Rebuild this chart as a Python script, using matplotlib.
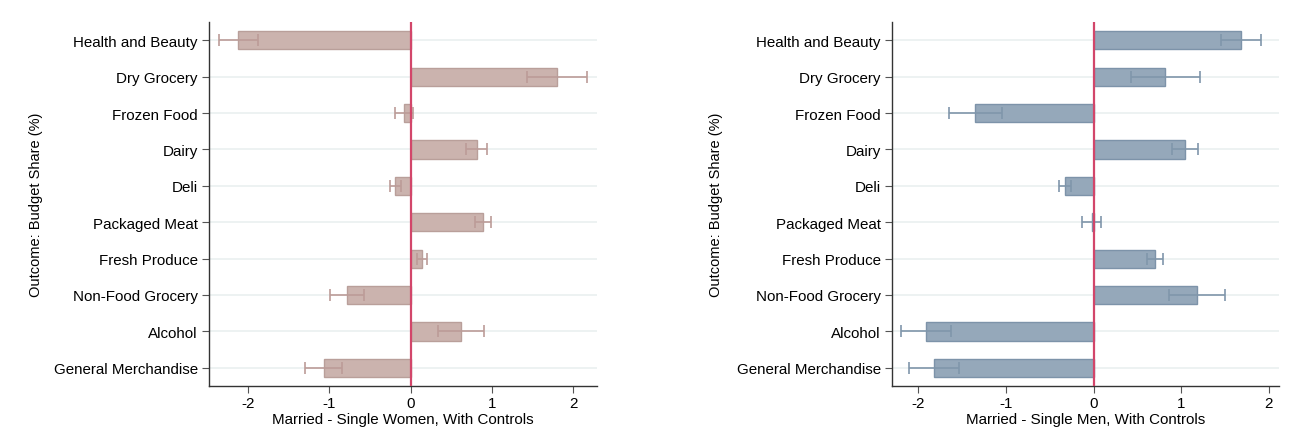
import matplotlib.pyplot as plt
import numpy as np

plt.rcParams['font.family'] = ['Liberation Sans', 'DejaVu Sans']

categories = ["Health and Beauty", "Dry Grocery", "Frozen Food", "Dairy", "Deli",
              "Packaged Meat", "Fresh Produce", "Non-Food Grocery", "Alcohol",
              "General Merchandise"]

# married minus single women, with controls
women_est = [-2.12, 1.80, -0.08, 0.81, -0.19, 0.89, 0.14, -0.78, 0.62, -1.07]
women_ci = [0.24, 0.37, 0.11, 0.13, 0.065, 0.095, 0.06, 0.21, 0.28, 0.23]

# married minus single men, with controls
men_est = [1.68, 0.82, -1.35, 1.04, -0.33, -0.02, 0.70, 1.18, -1.91, -1.82]
men_ci = [0.23, 0.39, 0.30, 0.15, 0.07, 0.11, 0.09, 0.32, 0.285, 0.285]

xticks = [-2, -1, 0, 1, 2]

fig = plt.figure(figsize=(12.91, 4.35), dpi=100)
ax1 = fig.add_axes([209 / 1291, 1 - 387 / 435, 388 / 1291, 364 / 435])
ax2 = fig.add_axes([892 / 1291, 1 - 387 / 435, 387 / 1291, 364 / 435])


def draw(ax, est, ci, face, edge, errc, xlim, xlabel, ypad):
    y = np.arange(len(categories))
    for yi in y:
        ax.axhline(yi, color='#eaf0f0', lw=1.2, zorder=0)
    ax.barh(y, est, height=0.5, color=face, edgecolor=edge, lw=1.0, zorder=2)
    ax.errorbar(est, y, xerr=ci, fmt='none', ecolor=errc, elinewidth=1.2,
                capsize=4, capthick=1.2, zorder=3)
    ax.axvline(0, color='#d2466a', lw=1.6, zorder=4)
    ax.set_yticks(y)
    ax.set_yticklabels(categories, fontsize=10.9)
    ax.set_ylim(len(categories) - 0.5, -0.5)
    ax.set_xlim(*xlim)
    ax.set_xticks(xticks)
    ax.set_xticklabels([str(t) for t in xticks], fontsize=10.9)
    ax.set_xlabel(xlabel, fontsize=10.9, labelpad=2)
    ax.set_ylabel("Outcome: Budget Share (%)", fontsize=10.5, labelpad=ypad)
    for s in ['top', 'right']:
        ax.spines[s].set_visible(False)
    for s in ['left', 'bottom']:
        ax.spines[s].set_color('#333333')
        ax.spines[s].set_linewidth(1.0)
    ax.tick_params(axis='y', length=5, color='#555555', pad=3)
    ax.tick_params(axis='x', length=5, color='#555555', pad=2)


draw(ax1, women_est, women_ci, '#cbb3ae', '#b99f9a', '#bc9c98', (-2.48, 2.29),
     "Married - Single Women, With Controls", 8)
draw(ax2, men_est, men_ci, '#95a8ba', '#7d93a9', '#8096ab', (-2.30, 2.115),
     "Married - Single Men, With Controls", 10)

fig.savefig("out.png", dpi=100)
